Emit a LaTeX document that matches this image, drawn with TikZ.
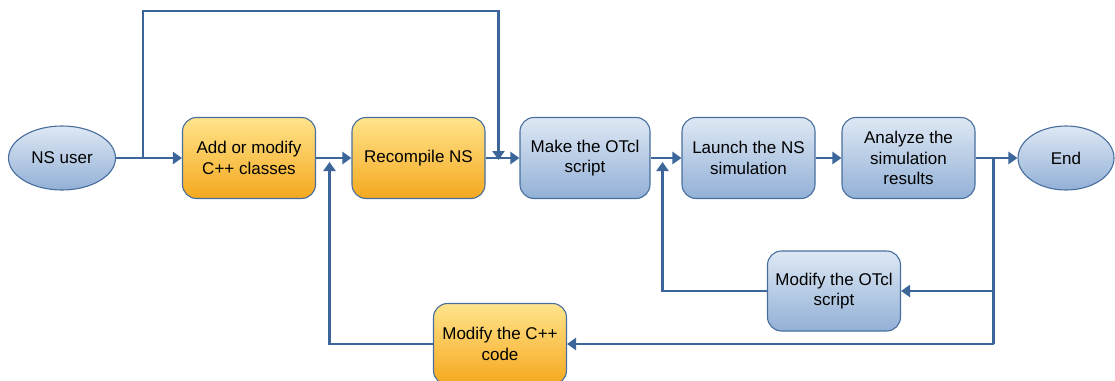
\documentclass[tikz,border=0pt]{standalone}
\usepackage{fontspec}
\setmainfont{Liberation Sans}
\usetikzlibrary{arrows.meta,shapes.geometric}
\definecolor{ln}{RGB}{60,102,154}
\definecolor{bd}{RGB}{72,110,158}
\definecolor{bt}{RGB}{222,232,244}
\definecolor{bb}{RGB}{146,176,214}
\definecolor{gt}{RGB}{255,228,140}
\definecolor{gm}{RGB}{255,200,20}
\definecolor{gb}{RGB}{245,168,30}
\begin{document}
\begin{tikzpicture}[x=1pt,y=-1pt,
  box/.style={rectangle, rounded corners=14pt, draw=bd, line width=1.1pt,
    minimum width=133pt, minimum height=81pt, align=center, inner sep=2pt,
    font=\fontsize{17}{20.7}\selectfont},
  bluebox/.style={box, top color=bt, bottom color=bb},
  goldbox/.style={box, top color=gt, middle color=gm, bottom color=gb},
  oval/.style={ellipse, draw=bd, line width=1.1pt, top color=bt, bottom color=bb,
    minimum height=64pt, inner sep=1pt, font=\fontsize{17}{20.7}\selectfont},
  conn/.style={draw=ln, line width=2.8pt},
  arr/.style={conn, -{Triangle[length=9pt,width=12pt]}}]
\useasboundingbox (0,0) rectangle (1115,380);

\node[oval, minimum width=107pt] (user) at (62,158) {NS user};
\node[goldbox] (add) at (249,158) {Add or modify\\C++ classes};
\node[goldbox] (rec) at (418.5,158) {Recompile NS};
\node[bluebox, minimum width=130pt] (make) at (585,158) {Make the OTcl\\script};
\node[bluebox] (launch) at (748.5,158) {Launch the NS\\simulation};
\node[bluebox] (anal) at (908.5,158) {Analyze the\\simulation\\results};
\node[oval, minimum width=96pt] (end) at (1066,158) {End};
\node[bluebox, minimum height=80pt] (motcl) at (834,291) {Modify the OTcl\\script};
\node[goldbox] (mcpp) at (500,344) {Modify the C++\\code};

\coordinate (b1) at (143,158);
\coordinate (t1) at (143,11);
\coordinate (t2) at (498.5,11);
\coordinate (j1) at (498.5,160);
\coordinate (r1) at (993.5,158);
\coordinate (r2) at (993.5,344);
\coordinate (r3) at (993.5,291);
\coordinate (l1) at (662.5,291);
\coordinate (l2) at (662.5,162);
\coordinate (k1) at (329.5,344);
\coordinate (k2) at (329.5,162);

\draw[arr] (user) -- (add);
\draw[arr] (b1) -- (t1) -- (t2) -- (j1);
\draw[arr] (add) -- (rec);
\draw[arr] (rec) -- (make);
\draw[arr] (make) -- (launch);
\draw[arr] (launch) -- (anal);
\draw[arr] (anal) -- (end);
\draw[conn] (r1) -- (r2);
\draw[arr] (r3) -- (motcl.east);
\draw[arr] (r2) -- (mcpp.east);
\draw[arr] (motcl.west) -- (l1) -- (l2);
\draw[arr] (mcpp.west) -- (k1) -- (k2);
\end{tikzpicture}
\end{document}
